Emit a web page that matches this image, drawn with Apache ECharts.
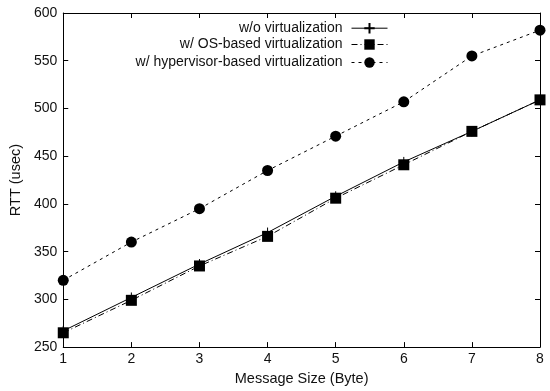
<!DOCTYPE html>
<html><head><meta charset="utf-8">
<script src="https://cdn.jsdelivr.net/npm/echarts@6/dist/echarts.min.js"></script>
<style>html,body{margin:0;padding:0;background:#fff}#c{width:550px;height:391px}</style>
</head><body><div id="c"></div>
<script>
const sizes = [1, 2, 3, 4, 5, 6, 7, 8];
const noVirt = [267, 302, 337, 370, 408, 444, 476, 509];
const osVirt = [265, 299, 335, 366, 406, 441, 476, 509];
const hvVirt = [320, 360, 395, 435, 471, 507, 555, 582];
const names = ['w/o virtualization', 'w/ OS-based virtualization', 'w/ hypervisor-based virtualization'];

const F = 'Liberation Sans, Arial, Helvetica, sans-serif';
const pair = a => sizes.map((x, i) => [x, a[i]]);
const axisCommon = {
  axisLine: {show: true, lineStyle: {color: '#000', width: 1}},
  axisTick: {show: true, inside: true, length: 5, lineStyle: {color: '#000'}},
  splitLine: {show: false}
};
const legendCommon = (name, top) => ({
  data: [name], right: 162, top: top, orient: 'vertical', align: 'right',
  itemWidth: 36, itemHeight: 13, itemGap: 0, padding: 0,
  lineStyle: {width: 1},
  textStyle: {fontFamily: F, fontSize: 14, color: '#111', padding: [0, 4, 0, 0]}
});
const chart = echarts.init(document.getElementById('c'));
chart.setOption({
  animation: false,
  grid: {left: 58, right: 10, top: 13, bottom: 43},
  legend: [legendCommon(names[0], 20.5), legendCommon(names[1], 37.5), legendCommon(names[2], 55.5)],
  xAxis: [
    Object.assign({type: 'value', min: 1, max: 8, interval: 1, position: 'bottom',
      name: 'Message Size (Byte)', nameLocation: 'middle', nameGap: 23,
      nameTextStyle: {fontFamily: F, fontSize: 14.5, color: '#111'},
      axisLabel: {fontFamily: F, fontSize: 14, color: '#111', margin: 5}}, axisCommon),
    Object.assign({type: 'value', min: 1, max: 8, interval: 1, position: 'top',
      axisLabel: {show: false}}, axisCommon)
  ],
  yAxis: [
    Object.assign({type: 'value', min: 250, max: 600, interval: 50, position: 'left',
      name: 'RTT (usec)', nameLocation: 'middle', nameGap: 33,
      nameTextStyle: {fontFamily: F, fontSize: 14.5, color: '#111'},
      axisLabel: {fontFamily: F, fontSize: 14, color: '#111', margin: 6}}, axisCommon),
    Object.assign({type: 'value', min: 250, max: 600, interval: 50, position: 'right',
      axisLabel: {show: false}}, axisCommon)
  ],
  series: [
    {name: names[0], type: 'line', data: pair(noVirt), clip: false,
      symbol: 'path://M0,5L10,5M5,0L5,10', symbolSize: 10,
      itemStyle: {color: 'none', borderColor: '#000', borderWidth: 1},
      lineStyle: {color: '#000', width: 1, type: 'solid'}},
    {name: names[1], type: 'line', data: pair(osVirt), clip: false,
      symbol: 'rect', symbolSize: 11,
      itemStyle: {color: '#000'},
      lineStyle: {color: '#000', width: 1, type: [6, 3, 1, 3]}},
    {name: names[2], type: 'line', data: pair(hvVirt), clip: false,
      symbol: 'circle', symbolSize: 11,
      itemStyle: {color: '#000'},
      lineStyle: {color: '#000', width: 1, type: [3, 4]}}
  ]
});
</script></body></html>
